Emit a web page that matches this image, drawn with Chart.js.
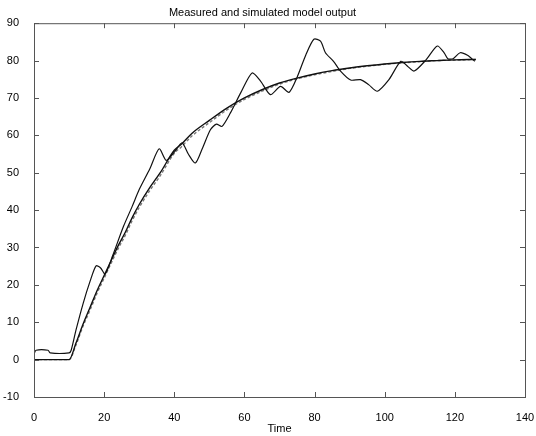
<!DOCTYPE html>
<html lang="en">
<head>
    <meta charset="UTF-8">
    <title>Measured and simulated model output</title>
    <style>
        html, body { margin: 0; padding: 0; background: #fff; }
        #wrap { width: 536px; height: 436px; }
    </style>
</head>
<body>
    <div id="wrap"><canvas id="chart" width="536" height="436"></canvas></div>

    <script src="https://cdn.jsdelivr.net/npm/chart.js"></script>
    <script>
        // measured output
        const measTime = [0, 0.6, 4, 4.6, 10, 10.6, 12, 14, 16, 17.7, 19, 20.3, 22.5, 25.5, 28, 30, 33, 35.7, 37.7, 40, 42.2, 44, 46, 48, 50.3, 52, 53.6, 56, 59, 62.2, 64.6, 67.4, 70.3, 72.7, 75, 77.5, 79.8, 81.7, 83.1, 85.4, 87.4, 90.3, 93.1, 95.5, 97.9, 101.2, 104.6, 106.5, 108.4, 111.7, 115, 117, 118, 119.5, 121.5, 123.6, 125.7];
        const measValue = [1.5, 2.5, 2.5, 1.8, 1.8, 2.5, 8, 15, 21, 25.1, 24.5, 22.9, 28, 35.6, 41, 45.5, 51, 56.4, 53.3, 55.5, 58, 55, 52.6, 56.5, 61.5, 63, 62.4, 66, 71.5, 76.7, 74.5, 70.9, 73.1, 71.5, 75.5, 81.5, 85.7, 85.2, 82.1, 79.8, 77.2, 74.8, 74.9, 73.5, 71.8, 74.9, 79.8, 78.5, 77.2, 80.1, 83.9, 82, 80.5, 80.5, 82.1, 81.4, 79.8];

        // simulated model outputs
        const modelTime = [0, 10, 12, 14, 16, 18, 20, 22, 24, 26, 28, 30, 33, 36, 40, 42, 45, 50, 55, 60, 65, 70, 75, 80, 85, 90, 95, 100, 105, 110, 115, 120, 126];
        const modelA = [0, 0, 4.5, 9.5, 14, 18.5, 22.5, 26.5, 30.5, 34, 38, 41.5, 46, 50, 56, 57.6, 60.5, 64, 67.3, 70, 72.2, 74, 75.3, 76.4, 77.3, 78, 78.6, 79.1, 79.5, 79.8, 80, 80.2, 80.3];
        const modelB = [0, 0, 4, 9, 13.3, 17.8, 21.8, 25.8, 29.7, 33.2, 37.2, 40.7, 45.2, 49.2, 55.2, 56.9, 59.8, 63.4, 66.8, 69.6, 71.8, 73.7, 75.1, 76.2, 77.1, 77.9, 78.5, 79, 79.4, 79.7, 80, 80.1, 80.3];

        const xTicks = [0, 20, 40, 60, 80, 100, 120, 140];
        const yTicks = [-10, 0, 10, 20, 30, 40, 50, 60, 70, 80, 90];

        const toPoints = (xs, ys) => xs.map((x, i) => ({ x: x, y: ys[i] }));

        // box round the axes with short ticks pointing inward, as in the original
        const framePlugin = {
            id: "frame",
            afterDraw(chart) {
                const { ctx, chartArea: a, scales } = chart;
                ctx.save();
                ctx.strokeStyle = "#555";
                ctx.lineWidth = 1;
                ctx.strokeRect(a.left + 0.5, a.top + 0.5, a.right - a.left, a.bottom - a.top);
                ctx.beginPath();
                xTicks.forEach((v) => {
                    const px = Math.round(scales.x.getPixelForValue(v)) + 0.5;
                    ctx.moveTo(px, a.bottom); ctx.lineTo(px, a.bottom - 5);
                    ctx.moveTo(px, a.top); ctx.lineTo(px, a.top + 5);
                });
                yTicks.forEach((v) => {
                    const py = Math.round(scales.y.getPixelForValue(v)) + 0.5;
                    ctx.moveTo(a.left, py); ctx.lineTo(a.left + 5, py);
                    ctx.moveTo(a.right, py); ctx.lineTo(a.right - 5, py);
                });
                ctx.stroke();
                ctx.restore();
            },
        };

        const font = { family: "'Liberation Sans', Arial, sans-serif", size: 11 };

        new Chart(document.getElementById("chart").getContext("2d"), {
            type: "line",
            data: {
                datasets: [
                    {
                        label: "Measured",
                        data: toPoints(measTime, measValue),
                        borderColor: "#111",
                        borderWidth: 1.2,
                        pointRadius: 0,
                        tension: 0.25,
                    },
                    {
                        label: "Model 1",
                        data: toPoints(modelTime, modelA),
                        borderColor: "#111",
                        borderWidth: 1.4,
                        pointRadius: 0,
                        cubicInterpolationMode: "monotone",
                    },
                    {
                        label: "Model 2",
                        data: toPoints(modelTime, modelB),
                        borderColor: "#777",
                        borderWidth: 1.4,
                        borderDash: [3, 2],
                        pointRadius: 0,
                        cubicInterpolationMode: "monotone",
                    },
                ],
            },
            options: {
                responsive: false,
                animation: false,
                layout: { padding: { left: 0, right: 11, top: 0, bottom: 0 } },
                plugins: {
                    legend: { display: false },
                    tooltip: { enabled: false },
                    title: {
                        display: true,
                        text: "Measured and simulated model output",
                        color: "#000",
                        font: { family: font.family, size: 11, weight: "normal" },
                        padding: { top: 6, bottom: 4 },
                    },
                },
                scales: {
                    x: {
                        type: "linear",
                        min: 0,
                        max: 140,
                        afterBuildTicks: (s) => { s.ticks = xTicks.map((v) => ({ value: v })); },
                        afterFit: (s) => { s.height = 39; s.paddingLeft = 0; s.paddingRight = 0; },
                        grid: { display: false },
                        border: { display: false },
                        ticks: { color: "#000", font: font, padding: 6, maxRotation: 0 },
                        title: { display: true, text: "Time", color: "#000", font: font, padding: 0 },
                    },
                    y: {
                        type: "linear",
                        min: -10,
                        max: 90,
                        afterBuildTicks: (s) => { s.ticks = yTicks.map((v) => ({ value: v })); },
                        afterFit: (s) => { s.width = 34; },
                        grid: { display: false },
                        border: { display: false },
                        ticks: { color: "#000", font: font, padding: 7 },
                    },
                },
            },
            plugins: [framePlugin],
        });
    </script>
</body>
</html>
